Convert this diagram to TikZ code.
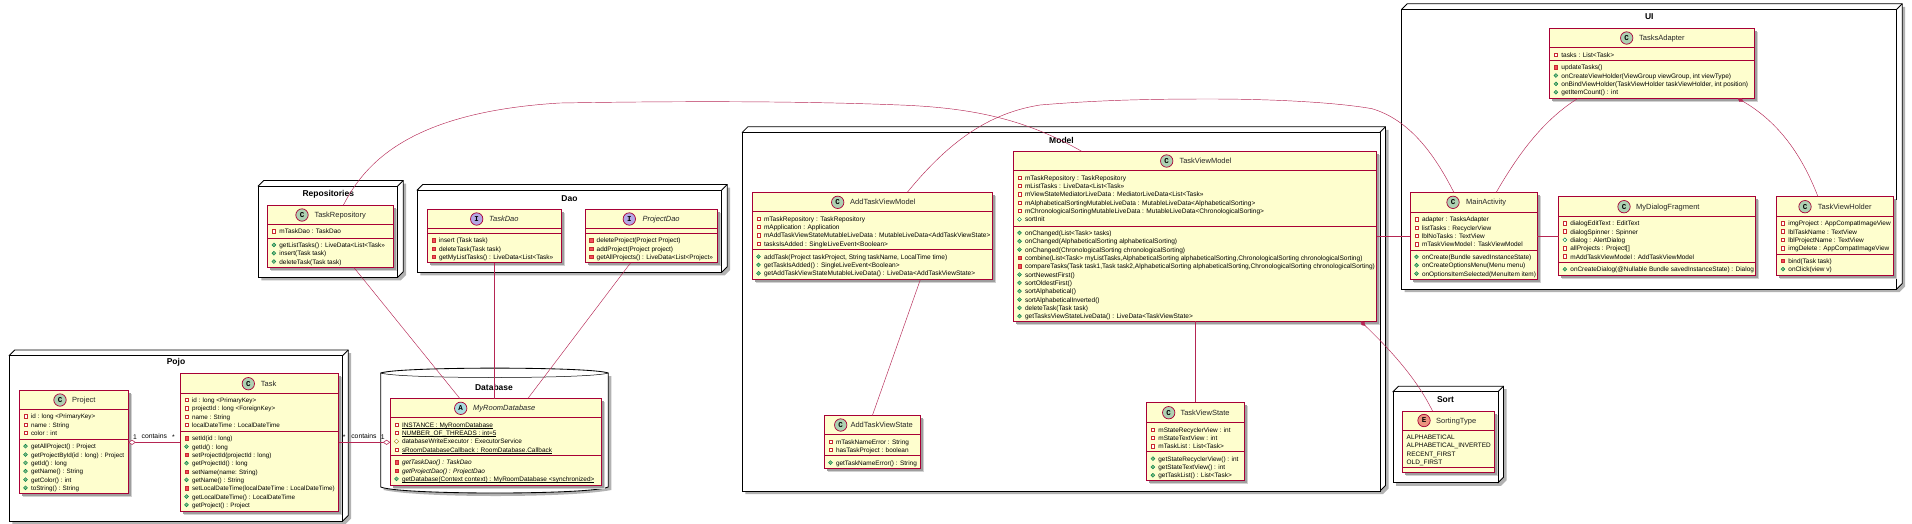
\documentclass[tikz,border=0pt]{standalone}
\usepackage{fontspec}
\setmainfont{Liberation Sans}
\setmonofont{Liberation Mono}
\usetikzlibrary{shadows,shapes.geometric,arrows.meta}
\definecolor{umlborder}{HTML}{A80036}
\definecolor{umlfill}{HTML}{FEFECE}
\definecolor{clsC}{HTML}{ADD1B2}
\definecolor{clsI}{HTML}{B4A7E5}
\definecolor{clsA}{HTML}{A9DCDF}
\definecolor{clsE}{HTML}{EB937F}
\definecolor{privB}{HTML}{C82930}
\definecolor{privF}{HTML}{F24D5C}
\definecolor{pubB}{HTML}{038048}
\definecolor{pubF}{HTML}{84BE84}
\definecolor{protB}{HTML}{B38D22}
\newsavebox\ulinebox
\newcommand\ulined[1]{\sbox\ulinebox{#1}\usebox\ulinebox\llap{\rule[-0.9pt]{\wd\ulinebox}{0.4pt}}}
\def\memsz{6.45}
\tikzset{
 x=1pt,y=-1pt,
 classbody/.style={draw=umlborder,fill=umlfill,line width=0.85pt,inner sep=0pt,outer sep=0pt,anchor=north west,
   general shadow={shadow xshift=3.6pt,shadow yshift=-3.6pt,fill=black!18},
   general shadow={shadow xshift=2.6pt,shadow yshift=-2.6pt,fill=black!38}},
 classline/.style={draw=umlborder,line width=0.75pt},
 conn/.style={draw=umlborder!85!white,line width=0.45pt},
 pkgline/.style={draw=black,line width=0.85pt},
 pkglabel/.style={font=\fontsize{8.5}{10}\selectfont\bfseries,inner sep=0pt},
 membertext/.style={font=\fontsize{\memsz}{8}\selectfont,inner sep=0pt,anchor=mid west},
 titletext/.style={font=\fontsize{7.5}{9}\selectfont,inner sep=0pt,anchor=mid west,text=black!85},
 linktext/.style={font=\fontsize{6.8}{8}\selectfont,inner sep=0pt},
 badge/.style={circle,draw=umlborder,line width=0.7pt,minimum size=12.4pt,inner sep=0pt,font=\fontsize{7.5}{8}\ttfamily\bfseries},
 icosq/.style={rectangle,minimum size=3.5pt,inner sep=0pt,line width=0.5pt},
 icocirc/.style={circle,minimum size=3.9pt,inner sep=0pt,line width=0.45pt},
 icodia/.style={diamond,minimum size=4.6pt,inner sep=0pt,line width=0.5pt,draw=protB,fill=white},
 opendiam/.tip={Turned Square[open,fill=white,length=7.5pt,width=5pt,line width=0.55pt]},
 fulldiam/.tip={Turned Square[length=6.5pt,width=4.2pt]},
}
\newcounter{rowid}
\newcommand\pkgbox[8]{%
 \pgfmathsetmacro\pkgW{#4-#2}\pgfmathsetmacro\pkgH{#5-#3}%
 \fill[black!30] (#2+3,#3-2.5) -- (#2+8.5,#3-2.5) -- (#4+8.5,#3-2.5) -- (#4+8.5,#5-2.5) -- (#4+3,#5+3) -- (#2+3,#5+3) -- cycle;
 \filldraw[pkgline,fill=white] (#2,#3) -- (#2+5.5,#3-5.5) -- (#4+5.5,#3-5.5) -- (#4+5.5,#5-5.5) -- (#4,#5) -- cycle;
 \draw[pkgline] (#4,#3) -- (#4+5.5,#3-5.5);
 \node[pkgline,fill=white,inner sep=0pt,outer sep=0pt,anchor=north west,minimum width=\pkgW pt,minimum height=\pkgH pt] (#1) at (#2,#3) {};
 \node[pkglabel] (#1label) at (#6,#7) {#8};
}
\newcommand\classbox[7]{%
 \pgfmathsetmacro\boxW{#4-#2}\pgfmathsetmacro\boxH{#5-#3}%
 \node[classbody,minimum width=\boxW pt,minimum height=\boxH pt] (#1) at (#2,#3) {};
 \draw[classline] (#2,#6) -- (#4,#6);
 \draw[classline] (#2,#7) -- (#4,#7);
 \pgfmathsetmacro\boxX{#2}\pgfmathsetmacro\rowY{#6+6.95}\def\secTwo{#7}\def\boxName{#1}%
}
\newcommand\classtitle[6]{% cx cy letter colour titlex title
 \node[badge,fill=#4] (\boxName badge) at (#1,#2) {#3};
 \node[titletext] (\boxName title) at (#5,#2) {#6};
}
\newcommand\nextsec{\pgfmathsetmacro\rowY{\secTwo+6.9}}
\newcommand\rowitem[2]{%
 \stepcounter{rowid}%
 \pgfmathsetmacro\rowTx{\boxX+11.5}\pgfmathsetmacro\rowIx{\boxX+6.2}%
 \node[#1] (ico\therowid) at (\rowIx,\rowY) {};
 \node[membertext] (row\therowid) at (\rowTx,\rowY) {#2};
 \pgfmathsetmacro\rowY{\rowY+8.33}%
}
\newcommand\fieldP[1]{\rowitem{icosq,draw=privB,fill=white}{#1}}
\newcommand\fieldG[1]{\rowitem{icocirc,draw=pubB,fill=white}{#1}}
\newcommand\fieldD[1]{\rowitem{icodia}{#1}}
\newcommand\methP[1]{\rowitem{icosq,draw=privB,fill=privF}{#1}}
\newcommand\methG[1]{\rowitem{icocirc,draw=pubB,fill=pubF}{#1}}
\newcommand\plainrow[1]{%
 \stepcounter{rowid}%
 \pgfmathsetmacro\rowTx{\boxX+4}%
 \node[membertext] (row\therowid) at (\rowTx,\rowY) {#1};
 \pgfmathsetmacro\rowY{\rowY+8.33}%
}
\begin{document}
\begin{tikzpicture}
\useasboundingbox (0,0) rectangle (1912,523);
% packages
\pkgbox{Pojo}{9.3}{355.5}{342.7}{521}{176}{362.7}{Pojo}
\pkgbox{Repositories}{258.3}{186}{397.7}{277.3}{328.3}{194}{Repositories}
\pkgbox{Dao}{417.3}{190}{721.7}{272.3}{569.5}{198.5}{Dao}
\pkgbox{Model}{742.3}{132.3}{1380}{491}{1061.5}{140}{Model}
\pkgbox{UI}{1401.7}{9.3}{1896.7}{289}{1649.3}{17}{UI}
\pkgbox{Sort}{1393}{391.7}{1498}{482.8}{1445.5}{399.7}{Sort}
% database package
\fill[black!30] (383.7,376) -- (611.3,376) -- (611.3,490) .. controls (570,498) and (420,498) .. (383.7,490) -- cycle;
\filldraw[pkgline,fill=white] (380.7,373) .. controls (400,366.5) and (590,366.5) .. (608.3,373) -- (608.3,487) .. controls (590,495) and (400,495) .. (380.7,487) -- cycle;
\draw[pkgline,line width=0.5pt] (380.7,373) .. controls (400,379) and (590,379) .. (608.3,373);
\node[pkglabel] (Databaselabel) at (494,387) {Database};
% Pojo
\def\memsz{6.3}
\classbox{project}{19.3}{390.3}{128.3}{493.3}{409.3}{439.3}
\classtitle{60}{400}{C}{clsC}{72}{Project}
\fieldP{id : long <PrimaryKey>}
\fieldP{name : String}
\fieldP{color : int}
\nextsec
\methG{getAllProject() : Project}
\methG{getProjectById(id : long) : Project}
\methG{getId() : long}
\methG{getName() : String}
\methG{getColor() : int}
\methG{toString() : String}
\classbox{task}{180.3}{373.3}{338.7}{511}{393}{431.3}
\classtitle{248.3}{383.7}{C}{clsC}{260.7}{Task}
\fieldP{id : long <PrimaryKey>}
\fieldP{projectId : long <ForeignKey>}
\fieldP{name : String}
\fieldP{localDateTime : LocalDateTime}
\nextsec
\methP{setId(id : long)}
\methG{getId() : long}
\methP{setProjectId(projectId : long)}
\methG{getProjectId() : long}
\methP{setName(name: String)}
\methG{getName() : String}
\methP{setLocalDateTime(localDateTime : LocalDateTime)}
\methG{getLocalDateTime() : LocalDateTime}
\methG{getProject() : Project}
\def\memsz{6.45}
% Database
\classbox{room}{390.3}{398.7}{601}{485.3}{417.7}{455.3}
\classtitle{460.7}{408.3}{A}{clsA}{473}{\itshape MyRoomDatabase}
\fieldP{\ulined{INSTANCE : MyRoomDatabase}}
\fieldP{\ulined{NUMBER\_OF\_THREADS : int=5}}
\fieldD{databaseWriteExecutor : ExecutorService}
\fieldP{\ulined{sRoomDatabaseCallback : RoomDatabase.Callback}}
\nextsec
\methP{\itshape getTaskDao() : TaskDao}
\methP{\itshape getProjectDao() : ProjectDao}
\methG{\ulined{getDatabase(Context context) : MyRoomDatabase <synchronized>}}
% Repositories
\classbox{repo}{267.7}{205.3}{393.7}{267.3}{224.3}{238}
\classtitle{302}{215}{C}{clsC}{314.3}{TaskRepository}
\fieldP{mTaskDao : TaskDao}
\nextsec
\methG{getListTasks() : LiveData<List<Task>>}
\methG{insert(Task task)}
\methG{deleteTask(Task task)}
% Dao
\classbox{taskdao}{427.3}{209.3}{561}{262.7}{228.3}{233.3}
\classtitle{476.7}{219}{I}{clsI}{489}{\itshape TaskDao}
\nextsec
\methP{insert (Task task)}
\methP{deleteTask(Task task)}
\methP{getMyListTasks() : LiveData<List<Task>>}
\classbox{projectdao}{585}{209.3}{717.3}{262.7}{228.3}{233.3}
\classtitle{629.3}{219}{I}{clsI}{642.3}{\itshape ProjectDao}
\nextsec
\methP{deleteProject(Project Project)}
\methP{addProject(Project project)}
\methP{getAllProjects() : LiveData<List<Project>>}
% Model
\def\memsz{6.55}
\classbox{addvm}{752.3}{192.3}{992.3}{279.7}{211.7}{249.7}
\classtitle{837.7}{202.3}{C}{clsC}{850}{AddTaskViewModel}
\fieldP{mTaskRepository : TaskRepository}
\fieldP{mApplication : Application}
\fieldP{mAddTaskViewStateMutableLiveData : MutableLiveData<AddTaskViewState>}
\fieldP{tasksIsAdded : SingleLiveEvent<Boolean>}
\nextsec
\methG{addTask(Project taskProject, String taskName, LocalTime time)}
\methG{getTaskIsAdded() : SingleLiveEvent<Boolean>}
\methG{getAddTaskViewStateMutableLiveData() : LiveData<AddTaskViewState>}
\def\memsz{6.45}
\classbox{addstate}{824.3}{415.7}{920.3}{468.7}{434.7}{455.7}
\classtitle{840.7}{425}{C}{clsC}{850.3}{AddTaskViewState}
\fieldP{mTaskNameError : String}
\fieldP{hasTaskProject : boolean}
\nextsec
\methG{getTaskNameError() : String}
\def\memsz{6.55}
\classbox{tvm}{1013.3}{151.3}{1376.7}{321.3}{170.7}{226}
\classtitle{1166.7}{161}{C}{clsC}{1179.3}{TaskViewModel}
\fieldP{mTaskRepository : TaskRepository}
\fieldP{mListTasks : LiveData<List<Task>>}
\fieldP{mViewStateMediatorLiveData : MediatorLiveData<List<Task>>}
\fieldP{mAlphabeticalSortingMutableLiveData : MutableLiveData<AlphabeticalSorting>}
\fieldP{mChronologicalSortingMutableLiveData : MutableLiveData<ChronologicalSorting>}
\fieldG{sortInit}
\nextsec
\methG{onChanged(List<Task> tasks)}
\methG{onChanged(AlphabeticalSorting alphabeticalSorting)}
\methG{onChanged(ChronologicalSorting chronologicalSorting)}
\methP{combine(List<Task> myListTasks,AlphabeticalSorting alphabeticalSorting,ChronologicalSorting chronologicalSorting)}
\methP{compareTasks(Task task1,Task task2,AlphabeticalSorting alphabeticalSorting,ChronologicalSorting chronologicalSorting)}
\methG{sortNewestFirst()}
\methG{sortOldestFirst()}
\methG{sortAlphabetical()}
\methG{sortAlphabeticalInverted()}
\methG{deleteTask(Task task)}
\methG{getTasksViewStateLiveData() : LiveData<TaskViewState>}
\def\memsz{6.45}
\classbox{tvstate}{1146.7}{402.3}{1244.3}{480.7}{422.7}{451.7}
\classtitle{1168.7}{412.7}{C}{clsC}{1180.3}{TaskViewState}
\fieldP{mStateRecyclerView : int}
\fieldP{mStateTextView : int}
\fieldP{mTaskList : List<Task>}
\nextsec
\methG{getStateRecyclerView() : int}
\methG{getStateTextView() : int}
\methG{getTaskList() : List<Task>}
% UI
\classbox{main}{1410.3}{192.7}{1537.3}{279.3}{212.3}{250}
\classtitle{1453}{202.3}{C}{clsC}{1466}{MainActivity}
\fieldP{adapter : TasksAdapter}
\fieldP{listTasks : RecyclerView}
\fieldP{lblNoTasks : TextView}
\fieldP{mTaskViewModel : TaskViewModel}
\nextsec
\methG{onCreate(Bundle savedInstanceState)}
\methG{onCreateOptionsMenu(Menu menu)}
\methG{onOptionsItemSelected(MenuItem item)}
\def\memsz{6.55}
\classbox{adapter}{1549.7}{28.3}{1754.3}{98.3}{47.7}{60.3}
\classtitle{1626.7}{38}{C}{clsC}{1639}{TasksAdapter}
\fieldP{tasks : List<Task>}
\nextsec
\methP{updateTasks()}
\methG{onCreateViewHolder(ViewGroup viewGroup, int viewType)}
\methG{onBindViewHolder(TaskViewHolder taskViewHolder, int position)}
\methG{getItemCount() : int}
\def\memsz{6.45}
\classbox{dialog}{1558.7}{196.7}{1755.7}{275}{216.2}{262.3}
\classtitle{1624}{206.7}{C}{clsC}{1636}{MyDialogFragment}
\fieldP{dialogEditText : EditText}
\fieldP{dialogSpinner : Spinner}
\fieldG{dialog : AlertDialog}
\fieldP{allProjects : Project[]}
\fieldP{mAddTaskViewModel : AddTaskViewModel}
\nextsec
\methG{onCreateDialog(@Nullable Bundle savedInstanceState) : Dialog}
\classbox{holder}{1776.7}{196.7}{1893.3}{275}{216.2}{253.9}
\classtitle{1805}{206.7}{C}{clsC}{1817.7}{TaskViewHolder}
\fieldP{imgProject : AppCompatImageView}
\fieldP{lblTaskName : TextView}
\fieldP{lblProjectName : TextView}
\fieldP{imgDelete : AppCompatImageView}
\nextsec
\methP{bind(Task task)}
\methG{onClick(view v)}
% Sort
\classbox{sorting}{1402.5}{411}{1494}{472.8}{430}{467.7}
\classtitle{1424}{420.5}{E}{clsE}{1436}{SortingType}
\pgfmathsetmacro\rowY{437}
\plainrow{ALPHABETICAL}
\plainrow{ALPHABETICAL\_INVERTED}
\plainrow{RECENT\_FIRST}
\plainrow{OLD\_FIRST}
% connectors
\draw[conn,{opendiam}-] ([yshift=-52pt]project.north east) -- node[pos=0.5,yshift=6pt,linktext] (lblA) {contains} ([yshift=-69pt]task.north west);
\node[linktext] (lblA1) at (135,437) {1};
\node[linktext] (lblA2) at (173.5,437) {*};
\draw[conn,-{opendiam}] ([yshift=-69pt]task.north east) -- node[pos=0.49,yshift=6pt,linktext] (lblB) {contains} ([yshift=-43.6pt]room.north west);
\node[linktext] (lblB1) at (344.3,437) {*};
\node[linktext] (lblB2) at (382.7,437) {1};
\draw[conn] ([xshift=86pt]repo.south west) -- ([xshift=69.7pt]room.north west);
\draw[conn] ([xshift=67pt]taskdao.south west) -- ([xshift=104pt]room.north west);
\draw[conn] ([xshift=45.7pt]projectdao.south west) -- ([xshift=137.4pt]room.north west);
\draw[conn] ([xshift=75.6pt]repo.north west) .. controls (365,163) and (410,112) .. (560,103) .. controls (680,101) and (800,101) .. (900,105) .. controls (980,108) and (1030,122) .. ([xshift=68.4pt]tvm.north west);
\draw[conn] ([xshift=155pt]addvm.north west) .. controls (950,140) and (990,113) .. (1040,105) .. controls (1100,100) and (1150,99) .. (1210,99) .. controls (1280,99) and (1340,103) .. (1372,108.7) .. controls (1410,120) and (1435,155) .. ([xshift=43.7pt]main.north west);
\draw[conn] ([xshift=48pt]addvm.south) -- ([xshift=48pt]addstate.north west);
\draw[conn] ([xshift=182.4pt]tvm.south west) -- ([xshift=49pt]tvstate.north west);
\draw[conn] ([yshift=-85.4pt]tvm.north east) -- ([yshift=-44pt]main.north west);
\draw[conn] ([yshift=-44pt]main.north east) -- ([yshift=-40pt]dialog.north west);
\draw[conn] ([xshift=85.7pt]main.north west) .. controls (1515,160) and (1540,122) .. ([xshift=28.3pt]adapter.south west);
\draw[conn,{fulldiam}-] ([xshift=188pt]adapter.south west) .. controls (1775,120) and (1800,150) .. ([xshift=41.3pt]holder.north west);
\draw[conn,{fulldiam}-] ([xshift=347.4pt]tvm.south west) .. controls (1385,345) and (1415,375) .. ([xshift=30pt]sorting.north west);
\end{tikzpicture}
\end{document}
